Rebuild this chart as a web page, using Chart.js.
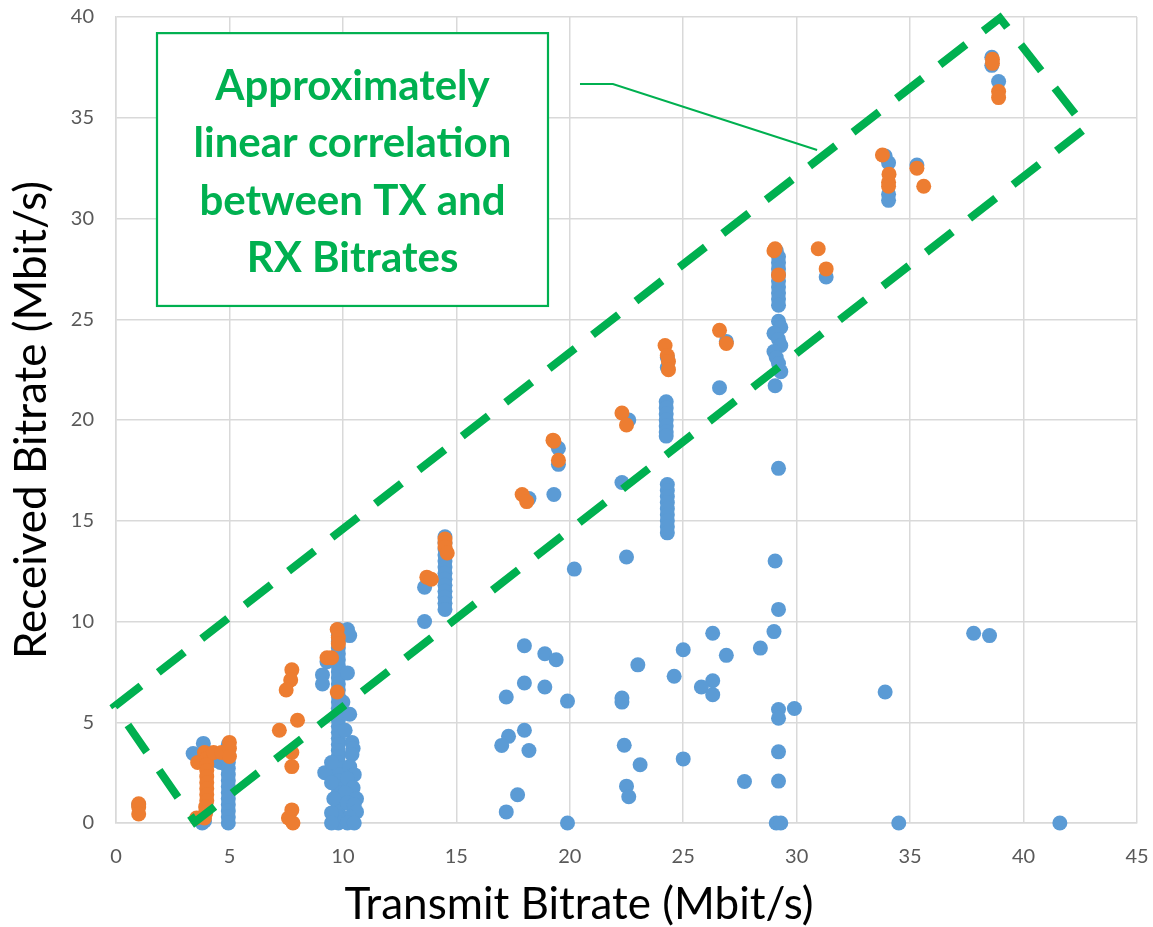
<!DOCTYPE html>
<html><head><meta charset="utf-8">
<script src="https://cdn.jsdelivr.net/npm/chart.js@4.4.1/dist/chart.umd.min.js"></script>
<style>html,body{margin:0;padding:0;background:#fff;}canvas{display:block;}</style>
</head><body>
<canvas id="c" width="1153" height="927"></canvas>
<script>
// ---------- data ----------
const xTickLabels = ['0','5','10','15','20','25','30','35','40','45'];
const yTickLabels = ['0','5','10','15','20','25','30','35','40'];
const xTitle = 'Transmit Bitrate (Mbit/s)';
const yTitle = 'Received Bitrate (Mbit/s)';
const noteLines = ['Approximately','linear correlation','between TX and','RX Bitrates'];

// [transmit, received] in Mbit/s
const bluePoints = [
 [1.0,0.9],
 [3.4,3.45],[3.85,3.95],[3.9,3.6],[3.9,0.1],[3.8,0.0],[4.4,3.1],[4.6,3.0],
 [4.95,3.9],[4.95,3.6],[4.95,3.3],[4.95,3.0],[4.95,2.7],[4.95,2.4],[4.95,2.1],[4.95,1.8],[4.95,1.5],[4.95,1.2],[4.95,0.9],[4.95,0.6],[4.95,0.3],[4.95,0.0],
 [9.8,9.6],[9.8,9.3],[9.8,9.0],[9.8,8.7],[9.8,8.4],[9.8,8.1],[9.8,7.8],[9.8,7.5],[9.8,7.2],[9.8,6.9],[9.8,6.6],[9.8,6.3],[9.8,6.0],[9.8,5.7],[9.8,5.4],[9.8,5.1],[9.8,4.8],[9.8,4.5],[9.8,4.2],[9.8,3.9],[9.8,3.6],[9.8,3.3],[9.8,3.0],[9.8,2.7],[9.8,2.4],[9.8,2.1],[9.8,1.8],[9.8,1.5],[9.8,1.2],[9.8,0.9],[9.8,0.6],[9.8,0.3],[9.8,0.0],
 [10.2,9.6],[10.3,9.3],[10.2,7.45],[9.3,8.0],[9.1,7.35],[9.1,6.9],[10.0,6.0],[10.3,5.4],[10.1,4.6],[10.4,4.0],[10.45,3.7],[10.4,3.4],[10.3,2.8],[10.5,2.4],[9.2,2.5],[9.5,3.0],[9.5,2.0],[10.2,2.2],[10.45,1.75],[10.1,1.5],[9.6,1.2],[10.6,1.2],[10.2,1.0],[10.5,0.9],[10.6,0.55],[9.5,0.5],[10.3,0.3],[9.5,0.0],[10.2,0.0],[10.5,0.0],
 [13.6,11.7],[13.6,10.0],[14.5,14.2],[14.5,13.9],[14.5,13.6],[14.5,13.3],[14.5,13.0],[14.5,12.7],[14.5,12.4],[14.5,12.1],[14.5,11.8],[14.5,11.5],[14.5,11.2],[14.5,10.9],[14.5,10.6],
 [18.2,16.1],[19.3,16.3],[19.5,18.6],[19.5,17.8],[20.2,12.6],
 [22.6,20.0],[22.3,16.9],[22.5,13.2],
 [24.3,23.1],[24.3,22.6],[24.25,20.9],[24.25,20.6],[24.25,20.3],[24.25,20.0],[24.25,19.7],[24.25,19.4],[24.25,19.2],
 [24.3,16.8],[24.3,16.5],[24.3,16.2],[24.3,15.9],[24.3,15.6],[24.3,15.3],[24.3,15.0],[24.3,14.7],[24.3,14.4],
 [26.6,21.6],[26.9,23.9],
 [29.1,28.4],[29.2,28.1],[29.2,27.8],[29.2,27.5],[29.2,27.2],[29.2,26.9],[29.2,26.6],[29.2,26.3],[29.2,26.0],[29.2,25.7],
 [29.2,24.9],[29.3,24.6],[29.0,24.3],[29.2,24.0],[29.3,23.7],[29.0,23.4],[29.1,23.1],[29.2,22.8],[29.3,22.4],[29.05,21.7],
 [29.2,17.6],[29.05,13.0],[29.2,10.6],[29.0,9.5],
 [31.3,27.1],
 [33.9,33.1],[34.05,32.77],[34.05,31.2],[34.05,30.9],[35.3,32.65],
 [38.6,38.0],[38.6,37.6],[38.9,36.8],
 [18.0,8.8],[18.9,8.4],[19.4,8.1],[18.0,6.95],[18.9,6.75],[17.2,6.25],[19.9,6.05],[22.3,6.0],[22.3,6.2],[23.0,7.85],
 [25.0,8.6],[24.6,7.28],[26.3,7.06],[25.8,6.75],[26.3,6.37],[26.3,9.42],[26.9,8.32],[28.4,8.68],[33.9,6.5],
 [29.2,5.63],[29.2,5.2],[29.9,5.68],[37.8,9.42],[38.5,9.3],
 [18.0,4.6],[17.3,4.3],[17.0,3.85],[18.2,3.6],[22.4,3.86],[23.1,2.89],[25.0,3.18],[29.2,3.53],[27.7,2.06],[29.2,2.08],
 [22.5,1.83],[22.6,1.3],[17.7,1.4],[17.2,0.55],[19.9,0],[29.1,0],[29.3,0],[34.5,0],[41.6,0]
];
const orangePoints = [
 [1.0,0.95],[1.0,0.8],[1.0,0.45],
 [3.6,3.0],[3.55,0.25],[3.9,3.5],[4.0,3.2],[4.0,2.9],[4.0,2.6],[4.0,2.3],[4.0,2.0],[4.0,1.7],[4.0,1.4],[4.0,1.1],[3.95,0.8],[3.95,0.5],[3.9,0.25],
 [4.3,3.5],[4.65,3.5],[5.0,4.0],[5.0,3.7],[5.0,3.3],
 [7.75,7.6],[7.7,7.1],[7.5,6.6],[8.0,5.1],[7.2,4.6],[7.75,3.5],[7.75,2.8],[7.75,0.65],[7.6,0.25],[7.8,0.0],
 [9.75,9.6],[9.8,9.2],[9.8,8.9],[9.3,8.2],[9.5,8.2],[9.75,6.5],
 [13.7,12.2],[13.9,12.1],[14.5,14.1],[14.5,13.9],[14.5,13.7],[14.6,13.4],
 [17.9,16.3],[18.1,15.95],
 [19.26,19.0],[19.3,18.95],[19.5,18.0],
 [22.3,20.35],[22.5,19.75],
 [24.2,23.7],[24.3,23.2],[24.35,22.9],[24.35,22.5],
 [26.6,24.45],[26.9,23.8],
 [29.0,28.4],[29.05,28.5],[29.2,27.2],
 [30.95,28.5],[31.3,27.5],
 [33.78,33.15],[34.05,31.8],[34.07,32.2],[34.05,31.6],
 [35.3,32.5],[35.6,31.6],
 [38.63,37.9],[38.63,37.7],[38.9,36.3],[38.9,36.0]
];
// annotation geometry in data units
const bandCorners = [[-0.05,5.8],[38.96,39.95],[42.75,34.5],[3.48,0.05]];
const noteBox = [[1.807,39.2],[19.04,25.66]];
const calloutPath = [[20.45,36.67],[21.9,36.67],[30.9,33.4]];

// ---------- chart ----------
const GREEN = '#00B050';
const overlay = {
  id: 'overlay',
  afterDatasetsDraw(chart) {
    const {ctx, scales: {x, y}} = chart;
    const P = ([a, b]) => [x.getPixelForValue(a), y.getPixelForValue(b)];
    ctx.save();
    ctx.strokeStyle = GREEN; ctx.lineWidth = 8; ctx.setLineDash([33, 22]); ctx.lineCap = 'butt';
    ctx.beginPath();
    bandCorners.forEach((c, i) => { const [px, py] = P(c); i ? ctx.lineTo(px, py) : ctx.moveTo(px, py); });
    ctx.closePath(); ctx.stroke();
    ctx.setLineDash([]);
    ctx.lineWidth = 2;
    ctx.beginPath();
    calloutPath.forEach((c, i) => { const [px, py] = P(c); i ? ctx.lineTo(px, py) : ctx.moveTo(px, py); });
    ctx.stroke();
    const [x1, y1] = P(noteBox[0]); const [x2, y2] = P(noteBox[1]);
    ctx.fillStyle = '#fff'; ctx.fillRect(x1, y1, x2 - x1, y2 - y1);
    ctx.lineWidth = 2.2; ctx.strokeStyle = GREEN; ctx.strokeRect(x1, y1, x2 - x1, y2 - y1);
    ctx.fillStyle = GREEN; ctx.font = 'bold 42px Lato'; ctx.textAlign = 'center'; ctx.textBaseline = 'alphabetic';
    const sx = Math.min(1, 339 / ctx.measureText(noteLines[1]).width);
    const cx = (x1 + x2) / 2;
    noteLines.forEach((t, i) => {
      ctx.save(); ctx.translate(cx, y1 + 67 + i * 57.3); ctx.scale(sx, 1); ctx.fillText(t, 0, 0); ctx.restore();
    });
    ctx.restore();
  },
  afterDraw(chart) {
    const {ctx, chartArea: ca} = chart;
    ctx.save();
    ctx.fillStyle = '#000'; ctx.font = '44px Lato'; ctx.textAlign = 'center'; ctx.textBaseline = 'alphabetic';
    let s = Math.min(1, 478 / ctx.measureText(xTitle).width);
    ctx.save(); ctx.translate(579, 919); ctx.scale(s, 1); ctx.fillText(xTitle, 0, 0); ctx.restore();
    s = Math.min(1, 480 / ctx.measureText(yTitle).width);
    ctx.save(); ctx.translate(46, (ca.top + ca.bottom) / 2); ctx.rotate(-Math.PI / 2); ctx.scale(s, 1); ctx.fillText(yTitle, 0, 0); ctx.restore();
    ctx.restore();
  }
};

const tickFont = {family: 'Lato', size: 20};
const gridOpt = {color: '#D9D9D9', lineWidth: 1.5, drawTicks: false};
const noPad = s => { s.paddingTop = 0; s.paddingBottom = 0; s.paddingLeft = 0; s.paddingRight = 0; };
new Chart(document.getElementById('c'), {
  type: 'scatter',
  data: {
    datasets: [
      {data: orangePoints.map(([a, b]) => ({x: a, y: b})), backgroundColor: '#ED7D31', borderColor: '#ED7D31', borderWidth: 0, pointRadius: 7.5, clip: false, order: 0},
      {data: bluePoints.map(([a, b]) => ({x: a, y: b})), backgroundColor: '#5B9BD5', borderColor: '#5B9BD5', borderWidth: 0, pointRadius: 7.5, clip: false, order: 1}
    ]
  },
  options: {
    responsive: false, animation: false, devicePixelRatio: 1,
    layout: {padding: {top: 17, right: 16, left: 0, bottom: 0}},
    plugins: {legend: {display: false}, tooltip: {enabled: false}},
    scales: {
      x: {type: 'linear', min: 0, max: 45,
          ticks: {stepSize: 5, padding: 22, color: '#595959', font: tickFont, callback: (v, i) => xTickLabels[i]},
          grid: gridOpt, border: {color: '#D9D9D9', width: 1.5},
          afterFit(s) { s.height = 104; noPad(s); }},
      y: {type: 'linear', min: 0, max: 40,
          ticks: {stepSize: 5, padding: 22, color: '#595959', font: tickFont, callback: (v, i) => yTickLabels[i]},
          grid: gridOpt, border: {color: '#D9D9D9', width: 1.5},
          afterFit(s) { s.width = 116; noPad(s); }}
    }
  },
  plugins: [overlay]
});
</script>
</body></html>
